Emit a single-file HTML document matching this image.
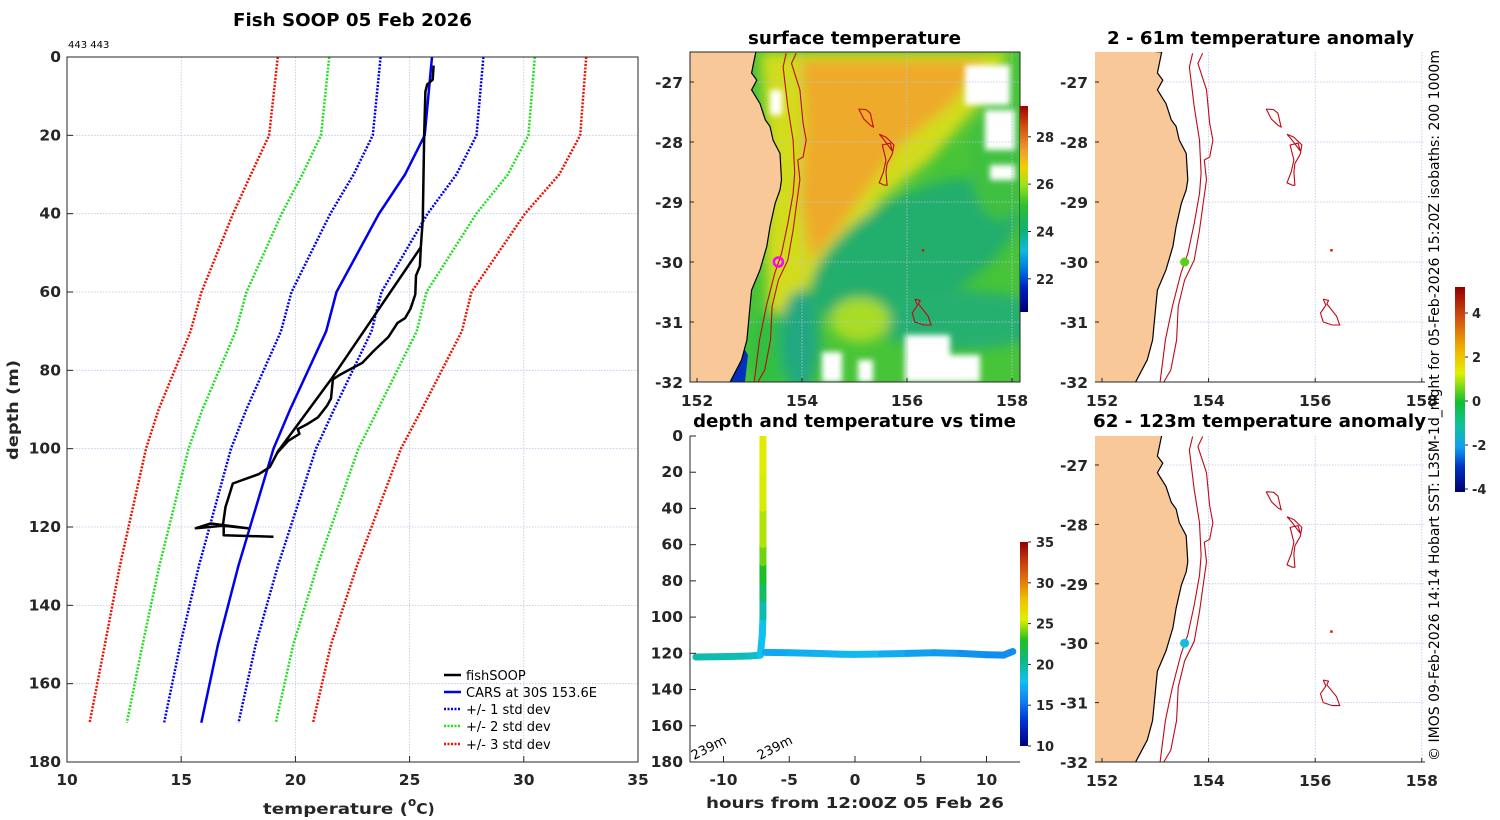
<!DOCTYPE html>
<html><head><meta charset="utf-8"><style>
html,body{margin:0;padding:0;background:#fff;}
svg{display:block;font-family:"DejaVu Sans","Liberation Sans",sans-serif;}
.tk{font-size:15.5px;font-weight:bold;fill:#262626;}
.ttl{font-size:18px;font-weight:bold;fill:#000;}
</style></head><body>
<svg id="fig" width="1500" height="820" viewBox="0 0 1500 820" xmlns="http://www.w3.org/2000/svg">
<defs>
<clipPath id="c1"><rect x="690" y="52" width="330" height="330"/></clipPath>
<clipPath id="c2"><rect x="1095" y="52" width="330" height="330"/></clipPath>
<clipPath id="c3"><rect x="1095" y="436" width="330" height="326"/></clipPath>
<clipPath id="cm"><rect x="690" y="436" width="330" height="326"/></clipPath>
<filter id="bl"><feGaussianBlur stdDeviation="6"/></filter>
<filter id="bl2"><feGaussianBlur stdDeviation="3"/></filter>
<linearGradient id="gJet" x1="0" y1="1" x2="0" y2="0">
<stop offset="0" stop-color="#000080"/><stop offset="0.12" stop-color="#0030d0"/><stop offset="0.22" stop-color="#1080f0"/><stop offset="0.32" stop-color="#10c0f0"/><stop offset="0.42" stop-color="#10b880"/><stop offset="0.52" stop-color="#20c020"/><stop offset="0.62" stop-color="#e0f000"/><stop offset="0.72" stop-color="#f0c000"/><stop offset="0.82" stop-color="#e07010"/><stop offset="0.92" stop-color="#c03010"/><stop offset="1" stop-color="#900000"/>
</linearGradient>
<linearGradient id="gSst" x1="0" y1="1" x2="0" y2="0">
<stop offset="0" stop-color="#000070"/><stop offset="0.12" stop-color="#0020c0"/><stop offset="0.2" stop-color="#0070e0"/><stop offset="0.3" stop-color="#10b8e0"/><stop offset="0.4" stop-color="#10b070"/><stop offset="0.52" stop-color="#30c030"/><stop offset="0.62" stop-color="#a0e020"/><stop offset="0.7" stop-color="#f0d000"/><stop offset="0.78" stop-color="#f0a030"/><stop offset="0.9" stop-color="#d05010"/><stop offset="1" stop-color="#a00000"/>
</linearGradient>
<linearGradient id="gAno" x1="0" y1="1" x2="0" y2="0">
<stop offset="0" stop-color="#000070"/><stop offset="0.12" stop-color="#0030c0"/><stop offset="0.22" stop-color="#10a0f0"/><stop offset="0.32" stop-color="#10c0a0"/><stop offset="0.44" stop-color="#10c030"/><stop offset="0.58" stop-color="#e0f000"/><stop offset="0.7" stop-color="#f0b000"/><stop offset="0.85" stop-color="#d05010"/><stop offset="1" stop-color="#900000"/>
</linearGradient>
</defs>

<!-- LEFT PROFILE CHART -->
<text x="233" y="26" textLength="239" lengthAdjust="spacingAndGlyphs" class="ttl">Fish SOOP 05 Feb 2026</text>
<text x="68" y="48" font-size="10" fill="#000">443 443</text>
<g id="profGrid"></g>
<g id="profMarks"></g>
<rect x="67" y="57" width="571" height="705" fill="none" stroke="#262626" stroke-width="1"/>
<g id="profTicks"></g>
<text transform="translate(18,460) rotate(-90)" textLength="100" lengthAdjust="spacingAndGlyphs" class="tk" font-size="17">depth (m)</text>
<text x="263" y="814" class="tk" font-size="19"><tspan textLength="145" lengthAdjust="spacingAndGlyphs">temperature (</tspan><tspan font-size="12" dy="-8">o</tspan><tspan dy="8">C)</tspan></text>
<g font-family="DejaVu Sans, sans-serif" font-size="13" fill="#000">
<g><line x1="444" y1="675" x2="461" y2="675" stroke="#000" stroke-width="2.5"/><text x="466" y="680">fishSOOP</text></g>
<g><line x1="444" y1="692" x2="461" y2="692" stroke="#0000ee" stroke-width="2.5"/><text x="466" y="697">CARS at 30S 153.6E</text></g>
<g><line x1="444" y1="709" x2="461" y2="709" stroke="#0000ee" stroke-width="2.5" stroke-dasharray="2,1.5"/><text x="466" y="714">+/- 1 std dev</text></g>
<g><line x1="444" y1="726" x2="461" y2="726" stroke="#22dd22" stroke-width="2.5" stroke-dasharray="2,1.5"/><text x="466" y="731">+/- 2 std dev</text></g>
<g><line x1="444" y1="744" x2="461" y2="744" stroke="#ee1100" stroke-width="2.5" stroke-dasharray="2,1.5"/><text x="466" y="749">+/- 3 std dev</text></g>
</g>

<!-- SST MAP -->
<text x="748" y="44" textLength="213" lengthAdjust="spacingAndGlyphs" class="ttl">surface temperature</text>
<g clip-path="url(#c1)">
<rect x="690" y="52" width="330" height="330" fill="#48c438"/>
<g filter="url(#bl)">
<polygon points="760,52 1010,52 975,110 930,160 880,200 850,245 805,290 790,330 770,340 765,250 768,150" fill="#d2dc1c"/>
<polygon points="800,60 985,60 950,105 900,145 870,185 835,235 810,260 800,200 805,120" fill="#eeaa2a"/>
<ellipse cx="915" cy="250" rx="115" ry="55" transform="rotate(-28 915 250)" fill="#22ae6c"/>
<ellipse cx="960" cy="320" rx="90" ry="30" fill="#28b070"/>
<ellipse cx="860" cy="320" rx="30" ry="22" fill="#a8dc28"/>
<ellipse cx="770" cy="350" rx="22" ry="40" fill="#30c040"/>
<ellipse cx="1000" cy="160" rx="30" ry="60" fill="#40c040"/>
<ellipse cx="800" cy="340" rx="20" ry="50" fill="#20a880"/>
</g>
<g fill="#ffffff" filter="url(#bl2)">
<rect x="965" y="65" width="45" height="40"/><rect x="985" y="110" width="30" height="40"/><rect x="990" y="165" width="25" height="15"/>
<rect x="905" y="335" width="45" height="47"/><rect x="940" y="355" width="40" height="27"/><rect x="822" y="352" width="20" height="30"/><rect x="858" y="360" width="15" height="22"/><rect x="770" y="90" width="12" height="25"/>
</g>
<polygon points="730,382 735,360 742,345 748,355 745,382" fill="#0030c0"/>
<g id="map1"></g>
</g>
<rect x="690" y="52" width="330" height="330" fill="none" stroke="#262626" stroke-width="1"/>
<g id="map1Ticks"></g>
<rect x="1020" y="106" width="8" height="206" fill="url(#gSst)"/>
<g id="cb1"></g>

<!-- DEPTH TIME CHART -->
<text x="693" y="427" textLength="323" lengthAdjust="spacingAndGlyphs" class="ttl">depth and temperature vs time</text>
<g id="tsMarks" clip-path="url(#cm)"></g>
<line x1="690" y1="436" x2="690" y2="762" stroke="#262626"/>
<line x1="690" y1="762" x2="1020" y2="762" stroke="#262626"/>
<g id="tsTicks"></g>
<text x="706" y="808" textLength="298" lengthAdjust="spacingAndGlyphs" class="tk" font-size="18">hours from 12:00Z 05 Feb 26</text>
<text transform="translate(694,760) rotate(-27)" font-size="13" fill="#000">239m</text>
<text transform="translate(760,760) rotate(-27)" font-size="13" fill="#000">239m</text>
<rect x="1020" y="542" width="8" height="204" fill="url(#gJet)"/>
<g id="cb2"></g>

<!-- ANOMALY MAPS -->
<text x="1107" y="44" textLength="307" lengthAdjust="spacingAndGlyphs" class="ttl">2 - 61m temperature anomaly</text>
<text x="1093" y="427" textLength="333" lengthAdjust="spacingAndGlyphs" class="ttl">62 - 123m temperature anomaly</text>
<g id="map2" clip-path="url(#c2)"></g>
<g id="map3" clip-path="url(#c3)"></g>
<g id="mapTicks"></g>
<rect x="1455" y="287" width="10" height="205" fill="url(#gAno)"/>
<g id="cb3"></g>
<text transform="translate(1439,761) rotate(-90)" textLength="711" lengthAdjust="spacingAndGlyphs" font-size="14" fill="#000">© IMOS 09-Feb-2026 14:14 Hobart SST: L3SM-1d_night for 05-Feb-2026 15:20Z isobaths: 200  1000m</text>
</svg>
<script>
// ---- profile data ----
const carsDepth = [0,20,30,40,60,70,90,100,130,150,170];
const carsMean  = [25.98,25.66,24.80,23.66,21.80,21.35,19.77,19.04,17.50,16.61,15.88];
const carsStd   = [2.25,2.27,2.25,2.13,1.97,1.98,1.92,1.86,1.73,1.65,1.63];
const fishTemp  = [26.05,26.01,25.77,25.69,25.64,25.58,25.49,25.45,25.28,25.25,25.04,24.80,24.47,24.07,23.42,22.93,22.53,21.96,21.64,21.56,21.39,20.99,20.50,20.10,20.18,19.69,19.21,18.88,18.40,17.26,17.10,16.94,16.82,15.64,16.29,17.91,16.86,16.86,19.04];
const fishDepth = [2.2,5.8,7.0,8.8,19.7,41.4,48.6,53.4,55.8,60.6,64.3,66.7,67.9,71.5,75.1,78.1,79.3,81.1,82.3,87.2,89.0,92.0,93.8,95.0,96.2,98.0,101.0,104.7,106.5,108.9,111.9,114.9,119.7,120.3,119.1,120.3,119.7,122.1,122.5];
const fishUpTemp  = [19.2,21.6,25.5];
const fishUpDepth = [101,82,48.5];
const tempTicks = [10,15,20,25,30,35];
const depthTicks = [0,20,40,60,80,100,120,140,160,180];
// ---- time series data ----
const tsHours = [-12.1,-10,-8,-7.2,-7.05,-7.0,-7.0,-7.0,-7.0,-7.0,-7.0,-7.0,-7.0,-7.0,-6.8,-5,-3,-1,0,2,4,6,8,10,11.3,11.7,12.0];
const tsDepth = [122,121.8,121.5,121,110,100,90,80,70,60,40,20,5,0,119.5,119.7,120,120.5,120.6,120.4,120,119.7,120,120.8,121,119.8,119];
const tsTemp  = [19.5,19.5,19.3,18.5,17.5,18.5,20.5,22,23.5,24.5,25.2,25.5,25.8,25.8,17,17,17.5,17.5,18,17.5,17,16.5,16.5,16,16,16,16];
const hourTicks = [-10,-5,0,5,10];
const tsDepthTicks = [0,20,40,60,80,100,120,140,160,180];
// ---- map data ----
const coastLon = [153.12,153.04,153.14,153.04,153.20,153.30,153.39,153.45,153.58,153.61,153.58,153.49,153.39,153.33,153.20,153.04,153.01,152.95,152.85,152.63];
const coastLat = [-26.50,-26.85,-26.97,-27.13,-27.36,-27.63,-27.74,-27.97,-28.19,-28.63,-28.80,-29.02,-29.41,-29.74,-30.13,-30.47,-30.74,-31.30,-31.63,-32.0];
const iso200Lon = [153.70,153.64,153.73,153.83,153.86,153.83,153.73,153.61,153.48,153.32,153.19,153.09];
const iso200Lat = [-26.52,-26.75,-27.41,-27.97,-28.52,-28.86,-29.36,-29.86,-30.19,-30.74,-31.30,-32.0];
const iso1000Lon = [153.89,153.80,153.96,154.02,154.08,154.02,153.92,153.96,153.89,153.83,153.73,153.55,153.43,153.40,153.29,153.16];
const iso1000Lat = [-26.52,-26.69,-27.13,-27.69,-27.97,-28.25,-28.30,-28.63,-29.08,-29.47,-29.97,-30.30,-30.74,-31.30,-31.80,-32.0];
const loopALon = [155.08,155.22,155.30,155.36,155.30,155.18,155.08];
const loopALat = [-27.45,-27.46,-27.52,-27.75,-27.72,-27.62,-27.45];
const loopBLon = [155.47,155.60,155.75,155.72,155.62,155.60,155.62,155.57,155.47,155.55,155.60,155.53,155.68,155.72,155.55,155.47];
const loopBLat = [-27.87,-27.92,-28.05,-28.20,-28.36,-28.50,-28.72,-28.72,-28.68,-28.50,-28.30,-28.05,-28.02,-28.15,-27.95,-27.87];
const loopCLon = [156.15,156.25,156.22,156.40,156.46,156.32,156.15,156.10,156.20,156.15];
const loopCLat = [-30.62,-30.64,-30.70,-30.90,-31.05,-31.05,-31.00,-30.85,-30.72,-30.62];
const fishLon = 153.55, fishLat = -30.0;
const anomShallow = 1.0, anomDeep = -1.0;
const mapLonTicks = [152,154,156,158];
const mapLatTicks = [-27,-28,-29,-30,-31,-32];
const sstCbTicks = [22,24,26,28];
const tsCbTicks = [10,15,20,25,30,35];
const anCbTicks = [-4,-2,0,2,4];

const NS='http://www.w3.org/2000/svg';
function mk(parent,tag,attrs,text){const e=document.createElementNS(NS,tag);for(const k in attrs)e.setAttribute(k,attrs[k]);if(text!==undefined)e.textContent=text;parent.appendChild(e);return e;}
function $(id){return document.getElementById(id);}

const xT=t=>67+(t-10)*22.84, yD=d=>57+d*3.9167;
const xH=h=>855+h*13.15, yM=d=>436+d*1.811;
const m1x=l=>697+(l-152)*52.5, m1y=la=>82+(-27-la)*60;
const m2x=l=>1102+(l-152)*53.3, m2y=la=>82+(-27-la)*60;
const m3x=m2x, m3y=la=>465+(-27-la)*59.4;

function jet(v,lo,hi){
  const stops=[[0,[0,0,128]],[0.12,[0,48,208]],[0.22,[16,128,240]],[0.32,[16,192,240]],[0.42,[16,184,128]],[0.52,[32,192,32]],[0.62,[224,240,0]],[0.72,[240,192,0]],[0.82,[224,112,16]],[0.92,[192,48,16]],[1,[144,0,0]]];
  let f=Math.max(0,Math.min(1,(v-lo)/(hi-lo)));
  for(let i=1;i<stops.length;i++){if(f<=stops[i][0]){const a=stops[i-1],b=stops[i];const u=(f-a[0])/(b[0]-a[0]);const c=a[1].map((x,j)=>Math.round(x+(b[1][j]-x)*u));return 'rgb('+c.join(',')+')';}}
  return 'rgb(144,0,0)';
}
function pts(lons,lats,fx,fy){return lons.map((l,i)=>fx(l).toFixed(1)+','+fy(lats[i]).toFixed(1)).join(' ');}

// ---- profile ----
const pg=$('profGrid');
tempTicks.slice(1,-1).forEach(t=>{const l=mk(pg,'line',{x1:xT(t),y1:57,x2:xT(t),y2:762,stroke:'#b8c4e8','stroke-width':0.8,'stroke-dasharray':'1.5,1.5'});

});
depthTicks.slice(1,-1).forEach(d=>{const l=mk(pg,'line',{x1:67,y1:yD(d),x2:638,y2:yD(d),stroke:'#b8c4e8','stroke-width':0.8,'stroke-dasharray':'1.5,1.5'});

});
const pm=$('profMarks');
[[3,'#ee1100'],[2,'#22dd22'],[1,'#0000ee']].forEach(([k,c])=>{
  [-1,1].forEach(s=>{
    const p=mk(pm,'polyline',{points:carsDepth.map((d,i)=>xT(carsMean[i]+s*k*carsStd[i]).toFixed(1)+','+yD(d).toFixed(1)).join(' '),fill:'none',stroke:c,'stroke-width':2.5,'stroke-dasharray':'2,1.5'});
    
    
  });
});
const cars=mk(pm,'polyline',{points:carsDepth.map((d,i)=>xT(carsMean[i]).toFixed(1)+','+yD(d).toFixed(1)).join(' '),fill:'none',stroke:'#0000ee','stroke-width':2.5});


const fl=mk(pm,'polyline',{points:fishDepth.map((d,i)=>xT(fishTemp[i]).toFixed(1)+','+yD(d).toFixed(1)).join(' '),fill:'none',stroke:'#000','stroke-width':2.5,'stroke-linejoin':'round'});


const fu=mk(pm,'polyline',{points:fishUpDepth.map((d,i)=>xT(fishUpTemp[i]).toFixed(1)+','+yD(d).toFixed(1)).join(' '),fill:'none',stroke:'#000','stroke-width':2.5});


const pt=$('profTicks');
tempTicks.forEach(t=>{mk(pt,'line',{x1:xT(t),y1:762,x2:xT(t),y2:756,stroke:'#262626'});
const tx=mk(pt,'text',{x:xT(t),y:785,'text-anchor':'middle',class:'tk'},String(t));

});
depthTicks.forEach(d=>{mk(pt,'line',{x1:67,y1:yD(d),x2:73,y2:yD(d),stroke:'#262626'});
const tx=mk(pt,'text',{x:61,y:yD(d)+5,'text-anchor':'end',class:'tk'},String(d));

});

// ---- time series ----
const tm=$('tsMarks');
for(let i=0;i<tsHours.length-1;i++){
  if(i===13) continue;
  const seg=mk(tm,'line',{x1:xH(tsHours[i]),y1:yM(tsDepth[i]),x2:xH(tsHours[i+1]),y2:yM(tsDepth[i+1]),stroke:jet((tsTemp[i]+tsTemp[i+1])/2,10,35),'stroke-width':7,'stroke-linecap':'round'});
  
  
}
const tk=$('tsTicks');
hourTicks.forEach(h=>{mk(tk,'line',{x1:xH(h),y1:762,x2:xH(h),y2:756,stroke:'#262626'});
const tx=mk(tk,'text',{x:xH(h),y:785,'text-anchor':'middle',class:'tk'},String(h));

});
tsDepthTicks.forEach(d=>{mk(tk,'line',{x1:690,y1:yM(d),x2:696,y2:yM(d),stroke:'#262626'});
const tx=mk(tk,'text',{x:683,y:yM(d)+5,'text-anchor':'end',class:'tk'},String(d));

});
const cb2=$('cb2');
tsCbTicks.forEach(v=>{const y=746-(v-10)/25*204;mk(cb2,'line',{x1:1028,y1:y,x2:1031,y2:y,stroke:'#262626'});
const tx=mk(cb2,'text',{x:1036,y:y+5,class:'tk',style:'font-size:13px'},String(v));

});

// ---- maps ----
function drawMap(g,fx,fy,x0,y0,w,h,withGrid,land){
  if(withGrid){
    mapLonTicks.slice(1).forEach(l=>{const gl=mk(g,'line',{x1:fx(l),y1:y0,x2:fx(l),y2:y0+h,stroke:'#b8c4e8','stroke-width':0.8,'stroke-dasharray':'1.5,1.5'});
    
    });
    mapLatTicks.slice(0,-1).forEach(la=>{const gl=mk(g,'line',{x1:x0,y1:fy(la),x2:x0+w,y2:fy(la),stroke:'#b8c4e8','stroke-width':0.8,'stroke-dasharray':'1.5,1.5'});
    
    });
  }
  const lp=mk(g,'polygon',{points:pts(coastLon,coastLat,fx,fy)+' '+fx(151.7)+','+fy(-32.2)+' '+fx(151.7)+','+fy(-26.4),fill:land,stroke:'#000','stroke-width':1.2});
  
  
  [[iso200Lon,iso200Lat,'isobath-200m'],[iso1000Lon,iso1000Lat,'isobath-1000m'],[loopALon,loopALat,'drifter-loop-a'],[loopBLon,loopBLat,'drifter-loop-b'],[loopCLon,loopCLat,'drifter-loop-c']].forEach(([a,b,n])=>{
    const p=mk(g,'polyline',{points:pts(a,b,fx,fy),fill:'none',stroke:'#c00818','stroke-width':1.1});
    
    
  });
  mk(g,'rect',{x:fx(156.3)-1,y:fy(-29.8)-1,width:2.5,height:2.5,fill:'#d02000'});
}
drawMap($('map1'),m1x,m1y,690,52,330,330,true,'#f8c898');
const ring=mk($('map1'),'circle',{cx:m1x(fishLon),cy:m1y(fishLat),r:4.5,fill:'none',stroke:'#ff00ff','stroke-width':2.5});


drawMap($('map2'),m2x,m2y,1095,52,330,330,true,'#f8c898');
drawMap($('map3'),m3x,m3y,1095,436,330,326,true,'#f8c898');
const d2=mk($('map2'),'circle',{cx:m2x(fishLon),cy:m2y(fishLat),r:4.5,fill:jet(anomShallow,-4.15,5.2)});


const d3=mk($('map3'),'circle',{cx:m3x(fishLon),cy:m3y(fishLat),r:4.5,fill:jet(anomDeep,-4.15,5.2)});



function mapAxes(g,fx,fy,x0,y0,w,h,box){
  if(box){mk(g,'rect',{x:x0,y:y0,width:w,height:h,fill:'none',stroke:'#262626'});}
  else{mk(g,'line',{x1:x0,y1:y0+h,x2:x0+w,y2:y0+h,stroke:'#262626'});}
  mapLonTicks.forEach(l=>{mk(g,'line',{x1:fx(l),y1:y0+h,x2:fx(l),y2:y0+h-4,stroke:'#262626'});
  const tx=mk(g,'text',{x:fx(l),y:y0+h+24,'text-anchor':'middle',class:'tk'},String(l));
  
  });
  mapLatTicks.forEach(la=>{mk(g,'line',{x1:x0,y1:fy(la),x2:x0+4,y2:fy(la),stroke:'#262626'});
  const tx=mk(g,'text',{x:x0-7,y:fy(la)+6,'text-anchor':'end',class:'tk'},String(la));
  
  });
}
mapAxes($('map1Ticks'),m1x,m1y,690,52,330,330,true);
mapAxes($('mapTicks'),m2x,m2y,1095,52,330,330,false);
mapAxes($('mapTicks'),m3x,m3y,1095,436,330,326,false);

const cb1=$('cb1');
sstCbTicks.forEach(v=>{const y=312-(v-20.6)/8.7*206;mk(cb1,'line',{x1:1028,y1:y,x2:1031,y2:y,stroke:'#262626'});
const tx=mk(cb1,'text',{x:1036,y:y+5,class:'tk',style:'font-size:13px'},String(v));

});
const cb3=$('cb3');
anCbTicks.forEach(v=>{const y=489-(v+4)*22;mk(cb3,'line',{x1:1465,y1:y,x2:1468,y2:y,stroke:'#262626'});
const tx=mk(cb3,'text',{x:1472,y:y+5,class:'tk',style:'font-size:13px'},String(v));

});
</script>
</body></html>
